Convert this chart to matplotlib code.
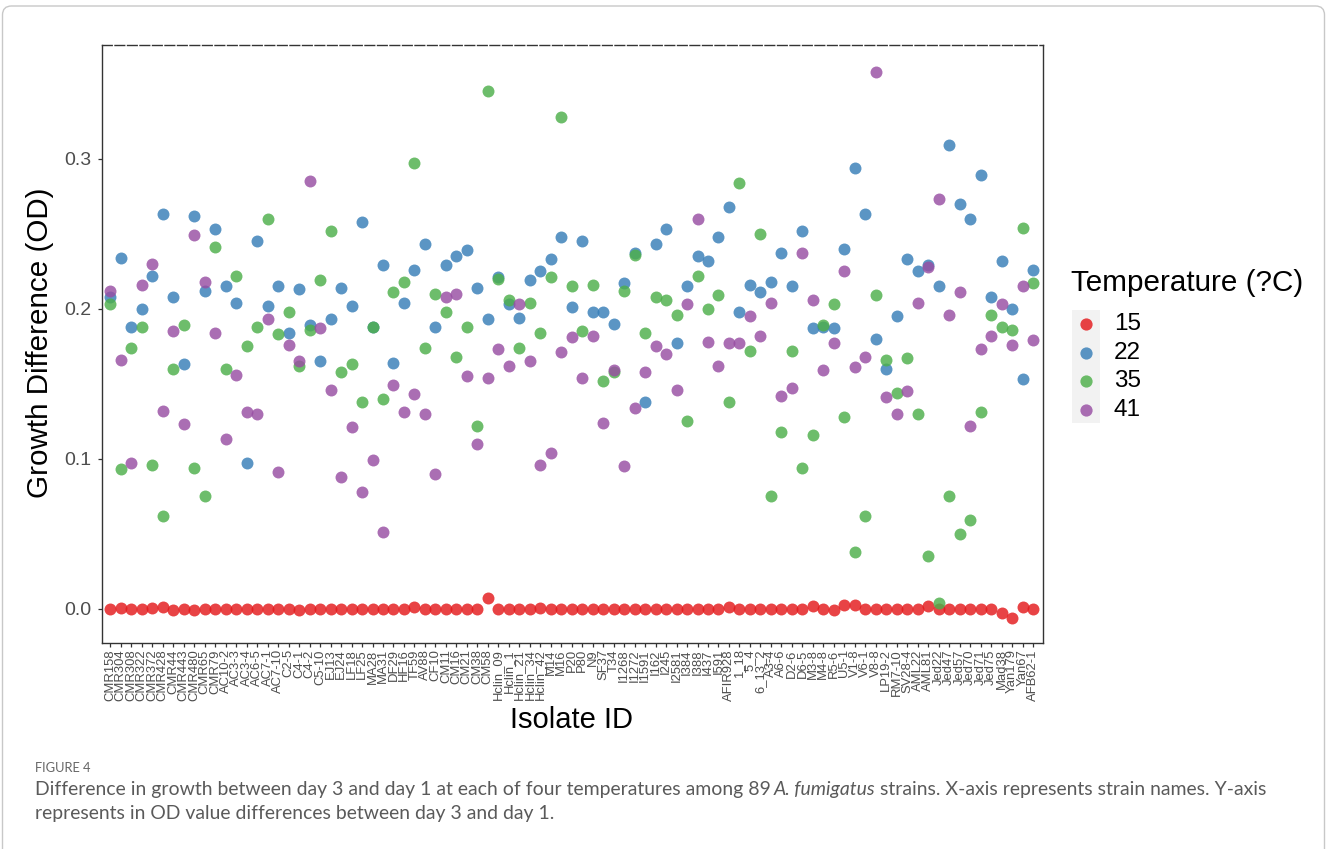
import matplotlib
matplotlib.use("Agg")
import matplotlib.pyplot as plt
from matplotlib.patches import FancyBboxPatch, Rectangle
from matplotlib.lines import Line2D
from matplotlib.transforms import IdentityTransform

strains = ["CMR158","CMR304","CMR308","CMR322","CMR372","CMR428","CMR44","CMR443","CMR480","CMR65",
           "CMR79","AC10-2","AC3-3","AC3-4","AC6-5","AC7-1","AC7-10","C2-5","C4-1","C4-2",
           "C5-10","EJ13","EJ24","LF18","LF25","MA28","MA31","DF29","HF16","TF59",
           "AV88","CF10","CM11","CM16","CM21","CM38","CM58","Hclin_09","Hclin_1","Hclin_21",
           "Hclin_34","Hclin_42","M14","M16","P20","P80","N9","SF37","T34","I1268",
           "I1272","I1591","I162","I245","I2581","I384","I388","I437","I591","AFIR928",
           "1_18","5_4","6_13_2","A3-4","A6-6","D2-6","D6-5","M3-8","M4-8","R5-6",
           "U5-1","V1-8","V6-1","V8-8","LP19-2","RM7-10","SV28-4","AML22","AML81","Jed22",
           "Jed47","Jed57","Jed70","Jed71","Jed75","Mad38","Yan179","Yan67","AFB62-1"]

temp_labels = ["15", "22", "35", "41"]

t15 = [0.000, 0.0005, 0.000, 0.000, 0.0005, 0.0015, -0.001, 0.000, -0.0005, 0.000,
       0.000, 0.000, 0.000, 0.000, 0.000, 0.000, 0.000, 0.000, -0.001, 0.000,
       0.000, 0.000, 0.000, 0.000, 0.000, 0.000, 0.000, 0.000, 0.000, 0.0015,
       0.000, 0.000, 0.000, 0.000, 0.000, 0.000, 0.007, 0.000, 0.000, 0.000,
       0.000, 0.0005, 0.000, 0.000, 0.000, 0.000, 0.000, 0.000, 0.000, 0.000,
       0.000, 0.000, 0.000, 0.000, 0.000, 0.000, 0.000, 0.000, 0.000, 0.001,
       0.000, 0.000, 0.000, 0.000, 0.000, 0.000, 0.000, 0.002, 0.000, -0.001,
       0.0025, 0.0025, 0.000, 0.000, 0.000, 0.000, 0.000, 0.000, 0.002, 0.000,
       0.000, 0.000, 0.000, 0.000, 0.000, -0.003, -0.006, 0.001, 0.000]

t22 = [0.208, 0.234, 0.188, 0.200, 0.222, 0.263, 0.208, 0.163, 0.262, 0.212,
       0.253, 0.215, 0.204, 0.097, 0.245, 0.202, 0.215, 0.184, 0.213, 0.189,
       0.165, 0.193, 0.214, 0.202, 0.258, 0.188, 0.229, 0.164, 0.204, 0.226,
       0.243, 0.188, 0.229, 0.235, 0.239, 0.214, 0.193, 0.221, 0.203, 0.194,
       0.219, 0.225, 0.233, 0.248, 0.201, 0.245, 0.198, 0.198, 0.190, 0.217,
       0.237, 0.138, 0.243, 0.253, 0.177, 0.215, 0.235, 0.232, 0.248, 0.268,
       0.198, 0.216, 0.211, 0.218, 0.237, 0.215, 0.252, 0.187, 0.188, 0.187,
       0.240, 0.294, 0.263, 0.180, 0.160, 0.195, 0.233, 0.225, 0.229, 0.215,
       0.309, 0.270, 0.260, 0.289, 0.208, 0.232, 0.200, 0.153, 0.226]

t35 = [0.203, 0.093, 0.174, 0.188, 0.096, 0.062, 0.160, 0.189, 0.094, 0.075,
       0.241, 0.160, 0.222, 0.175, 0.188, 0.260, 0.183, 0.198, 0.162, 0.186,
       0.219, 0.252, 0.158, 0.163, 0.138, 0.188, 0.140, 0.211, 0.218, 0.297,
       0.174, 0.210, 0.198, 0.168, 0.188, 0.122, 0.345, 0.220, 0.206, 0.174,
       0.204, 0.184, 0.221, 0.328, 0.215, 0.185, 0.216, 0.152, 0.158, 0.212,
       0.236, 0.184, 0.208, 0.206, 0.196, 0.125, 0.222, 0.200, 0.209, 0.138,
       0.284, 0.172, 0.250, 0.075, 0.118, 0.172, 0.094, 0.116, 0.189, 0.203,
       0.128, 0.038, 0.062, 0.209, 0.166, 0.144, 0.167, 0.130, 0.035, 0.004,
       0.075, 0.050, 0.059, 0.131, 0.196, 0.188, 0.186, 0.254, 0.217]

t41 = [0.212, 0.166, 0.097, 0.216, 0.230, 0.132, 0.185, 0.123, 0.249, 0.218,
       0.184, 0.113, 0.156, 0.131, 0.130, 0.193, 0.091, 0.176, 0.165, 0.285,
       0.187, 0.146, 0.088, 0.121, 0.078, 0.099, 0.051, 0.149, 0.131, 0.143,
       0.130, 0.090, 0.208, 0.210, 0.155, 0.110, 0.154, 0.173, 0.162, 0.203,
       0.165, 0.096, 0.104, 0.171, 0.181, 0.154, 0.182, 0.124, 0.159, 0.095,
       0.134, 0.158, 0.175, 0.170, 0.146, 0.203, 0.260, 0.178, 0.162, 0.177,
       0.177, 0.195, 0.182, 0.204, 0.142, 0.147, 0.237, 0.206, 0.159, 0.177,
       0.225, 0.161, 0.168, 0.358, 0.141, 0.130, 0.145, 0.204, 0.228, 0.273,
       0.196, 0.211, 0.122, 0.173, 0.182, 0.203, 0.176, 0.215, 0.179]

colors = ["#E41A1C", "#377EB8", "#4DAF4A", "#984EA3"]
series = [t15, t22, t35, t41]

W, H = 1327, 849
fig = plt.figure(figsize=(W / 100, H / 100), dpi=100)
fig.patch.set_facecolor("white")

def fx(px):
    return px / W

def fy(py):
    return 1 - py / H

left, right, top, bottom = 102, 1043, 45, 643
ax = fig.add_axes([fx(left), fy(bottom), fx(right) - fx(left), fy(top) - fy(bottom)])

xs = list(range(len(strains)))
for vals, c in zip(series, colors):
    ax.scatter(xs, vals, s=74, color=c, alpha=0.82, linewidths=0, zorder=3)

ax.set_xlim(-0.8, 88.95)
ax.set_ylim(-0.0227, 0.376)
ax.set_yticks([0.0, 0.1, 0.2, 0.3])
ax.set_yticklabels(["0.0", "0.1", "0.2", "0.3"])
ax.set_xticks(xs)
ax.set_xticklabels(strains, rotation=90, fontsize=9.4, color="#4D4D4D",
                   family="Liberation Sans")
for lab in ax.get_yticklabels():
    lab.set_fontsize(14)
    lab.set_color("#4D4D4D")
    lab.set_family("Liberation Sans")
ax.tick_params(axis="both", direction="out", length=3, width=0.9, color="#333333")
ax.tick_params(axis="x", pad=1.5)
ax.tick_params(axis="y", pad=4.5)

for s in ["left", "right", "bottom"]:
    ax.spines[s].set_color("#333333")
    ax.spines[s].set_linewidth(1.0)
ax.spines["top"].set_color("#333333")
ax.spines["top"].set_linewidth(1.0)
ax.spines["top"].set_linestyle((0, (7.0, 2.0)))

fig.text(fx(40), fy(343), "Growth Difference (OD)", rotation=90, ha="center", va="center",
         fontsize=21.3, family="Liberation Sans")
fig.text(fx(572), fy(720), "Isolate ID", ha="center", va="center",
         fontsize=21, family="Liberation Sans")

# legend
fig.text(fx(1071), fy(283), "Temperature (?C)", ha="left", va="center",
         fontsize=21.3, family="Liberation Sans")
fig.add_artist(Rectangle((fx(1072), fy(423)), fx(1100) - fx(1072), fy(310) - fy(423),
                         transform=fig.transFigure, facecolor="#F2F2F2", edgecolor="none"))
for i, (lab, c) in enumerate(zip(temp_labels, colors)):
    yy = 324 + i * 28.5
    fig.add_artist(Line2D([fx(1086)], [fy(yy)], marker="o", markersize=8.8, color=c,
                          alpha=0.82, markeredgewidth=0, transform=fig.transFigure))
    fig.text(fx(1114), fy(yy), lab, ha="left", va="center", fontsize=17.5,
             family="Liberation Sans")

# outer frame
fig.add_artist(FancyBboxPatch((2.5, -30), 1322, H - 6 + 30,
                              boxstyle="round,pad=0,rounding_size=9",
                              transform=IdentityTransform(), fill=False,
                              edgecolor="#C8C8C8", linewidth=1.0))

# caption
cap_color = "#5A5A5A"
cap_font = "Lato"
fig.text(fx(35), fy(768), "FIGURE 4", ha="left", va="center", fontsize=9.3,
         color="#666666", family=cap_font)

renderer = fig.canvas.get_renderer()
line1 = [("Difference in growth between day 3 and day 1 at each of four temperatures among 89\u2009", "normal"),
         ("A. fumigatus", "italic"),
         (" strains. X-axis represents strain names. Y-axis", "normal")]

def draw_pieces(pieces, x0, y0, size):
    x = x0
    arts = []
    for txt, style in pieces:
        t = fig.text(fx(x), fy(y0), txt, ha="left", va="center", fontsize=size,
                     style=style, color=cap_color, family=[cap_font, "DejaVu Sans"])
        bb = t.get_window_extent(renderer=renderer)
        x += bb.width
        arts.append(t)
    return x, arts

size = 12.0
end, arts = draw_pieces(line1, 35, 790, size)
for a in arts:
    a.remove()
size = size * (1262 - 35) / (end - 35)
draw_pieces(line1, 35, 790, size)
draw_pieces([("represents in OD value differences between day 3 and day 1.", "normal")], 35, 813, size)

fig.savefig("out.png", dpi=100)
